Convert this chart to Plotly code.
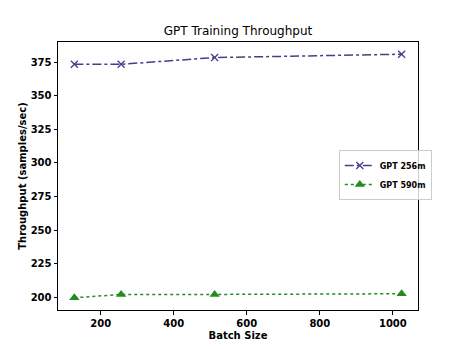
import plotly.graph_objects as go

batch_sizes = [128, 256, 512, 1024]
gpt_256m = [373.5, 373.5, 378.5, 381.0]
gpt_590m = [199.5, 202.0, 202.0, 202.5]
x_ticks = [200, 400, 600, 800, 1000]
y_ticks = [200, 225, 250, 275, 300, 325, 350, 375]

FONT = "DejaVu Sans"

fig = go.Figure()
fig.add_trace(go.Scatter(
    x=batch_sizes, y=gpt_256m, name="<b>GPT 256m</b>", mode="lines+markers",
    line=dict(color="#483D8B", width=1.5, dash="dashdot"),
    marker=dict(symbol="x-thin", size=7, line=dict(color="#483D8B", width=1.3), color="#483D8B"),
))
fig.add_trace(go.Scatter(
    x=batch_sizes, y=gpt_590m, name="<b>GPT 590m</b>", mode="lines+markers",
    line=dict(color="#228B22", width=1.5, dash="dot"),
    marker=dict(symbol="triangle-up", size=9, color="#228B22"),
))

axis_common = dict(
    showline=True, linecolor="black", linewidth=1, mirror=True,
    ticks="outside", ticklen=3.5, tickcolor="black", showgrid=False, zeroline=False,
    tickfont=dict(family=FONT, size=10, color="black"), automargin=False,
)

fig.update_layout(
    width=465, height=349,
    margin=dict(l=58, r=47, t=42, b=39),
    paper_bgcolor="white", plot_bgcolor="white",
    title=dict(text="GPT Training Throughput", x=238/465, xanchor="center",
               y=1-31/349, yanchor="middle",
               font=dict(family=FONT, size=12, color="black")),
    xaxis=dict(range=[83.2, 1068.8], tickvals=x_ticks,
               ticktext=[f"<b>{v}</b>" for v in x_ticks],
               title=dict(text="<b>Batch Size</b>", font=dict(family=FONT, size=10, color="black"), standoff=4),
               **axis_common),
    yaxis=dict(range=[190.4, 390.1], tickvals=y_ticks,
               ticktext=[f"<b>{v}</b>" for v in y_ticks],
               title=dict(text="<b>Throughput (samples/sec)</b>", font=dict(family=FONT, size=10, color="black"), standoff=2),
               **axis_common),
    legend=dict(x=0.78, y=0.504, xanchor="left", yanchor="middle",
                bgcolor="rgba(255,255,255,0.8)", bordercolor="#cccccc", borderwidth=1,
                font=dict(family=FONT, size=8, color="black"),
                itemwidth=30, tracegroupgap=0),
    showlegend=True,
)

fig.write_html("out.html", config={"displayModeBar": False},
               post_script="document.body.style.margin='0';document.body.style.padding='0';")
